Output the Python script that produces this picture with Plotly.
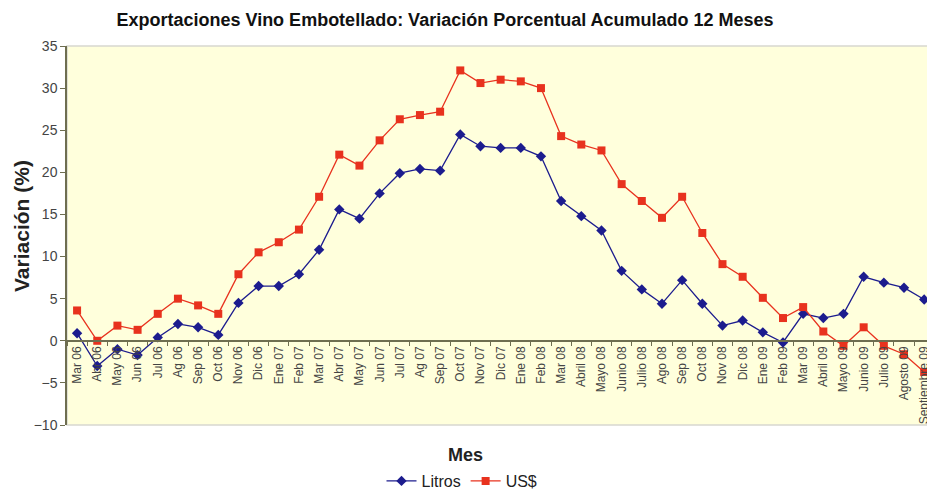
import plotly.graph_objects as go

meses = ["Mar 06", "Abr 06", "May 06", "Jun 06", "Jul 06", "Ag 06", "Sep 06", "Oct 06", "Nov 06", "Dic 06",
         "Ene 07", "Feb 07", "Mar 07", "Abr 07", "May 07", "Jun 07", "Jul 07", "Ag 07", "Sep 07", "Oct 07",
         "Nov 07", "Dic 07", "Ene 08", "Feb 08", "Mar 08", "Abril 08", "Mayo 08", "Junio 08", "Julio 08",
         "Ago 08", "Sep 08", "Oct 08", "Nov 08", "Dic 08", "Ene 09", "Feb 09", "Mar 09", "Abril 09",
         "Mayo 09", "Junio 09", "Julio 09", "Agosto 09", "Septiembre 09"]

litros = [0.9, -3.0, -1.0, -1.7, 0.4, 2.0, 1.6, 0.7, 4.5, 6.5,
          6.5, 7.9, 10.8, 15.6, 14.5, 17.5, 19.9, 20.4, 20.2, 24.5,
          23.1, 22.9, 22.9, 21.9, 16.6, 14.8, 13.1, 8.3, 6.1,
          4.4, 7.2, 4.4, 1.8, 2.4, 1.0, -0.2, 3.2, 2.7,
          3.2, 7.6, 6.9, 6.3, 4.9]

usd = [3.6, 0.0, 1.8, 1.3, 3.2, 5.0, 4.2, 3.2, 7.9, 10.5,
       11.7, 13.2, 17.1, 22.1, 20.8, 23.8, 26.3, 26.8, 27.2, 32.1,
       30.6, 31.0, 30.8, 30.0, 24.3, 23.3, 22.6, 18.6, 16.6,
       14.6, 17.1, 12.8, 9.1, 7.6, 5.1, 2.7, 4.0, 1.1,
       -0.6, 1.6, -0.6, -1.6, -3.7]

y_ticks = [-10, -5, 0, 5, 10, 15, 20, 25, 30, 35]

W, H = 927, 493
PLOT_H = 379

fig = go.Figure()
fig.add_trace(go.Scatter(
    x=meses, y=litros, name="Litros", mode="lines+markers",
    line=dict(color="#1c1c8e", width=1.3),
    marker=dict(symbol="diamond", size=8, color="#1c1c8e"),
))
fig.add_trace(go.Scatter(
    x=meses, y=usd, name="US$", mode="lines+markers",
    line=dict(color="#e8321e", width=1.3),
    marker=dict(symbol="square", size=8, color="#e8321e"),
))

fig.update_layout(
    width=W, height=H,
    margin=dict(l=67, r=0, t=46, b=H - 46 - PLOT_H, autoexpand=False),
    paper_bgcolor="white",
    plot_bgcolor="#ffffdc",
    font=dict(family="Arial, Liberation Sans, sans-serif", color="#333333"),
    title=dict(
        text="<b>Exportaciones Vino Embotellado: Variación Porcentual Acumulado 12 Meses</b>",
        x=445 / W, xanchor="center", y=1 - 20 / H, yanchor="middle",
        font=dict(size=18, color="#111111"),
    ),
    showlegend=True,
    legend=dict(
        orientation="h", x=(462 - 67) / 860, xanchor="center",
        y=(425 - 481) / PLOT_H, yanchor="middle",
        font=dict(size=16, color="#222222"), bgcolor="rgba(0,0,0,0)",
        itemwidth=30,
    ),
    xaxis=dict(
        type="category", range=[-0.5, 42.14],
        anchor="free", position=10 / 45, automargin=False,
        showline=True, linecolor="#6e6e50", linewidth=1.5,
        ticks="outside", ticklen=4, tickcolor="#6e6e50", tickson="boundaries",
        tickangle=-90, tickfont=dict(size=12, color="#444444"),
        showgrid=False, zeroline=False,
    ),
    yaxis=dict(
        range=[-10, 35], tickvals=y_ticks, automargin=False,
        showline=True, linecolor="#6e6e50", linewidth=1.5,
        ticks="outside", ticklen=5, tickcolor="#6e6e50",
        tickfont=dict(size=14, color="#444444"),
        showgrid=False, zeroline=False,
    ),
    annotations=[
        dict(text="<b>Variación (%)</b>", xref="paper", yref="paper",
             x=-46 / 860, y=(425 - 226) / PLOT_H, textangle=-90, showarrow=False,
             xanchor="center", yanchor="middle", font=dict(size=21, color="#222222")),
        dict(text="<b>Mes</b>", xref="paper", yref="paper",
             x=(465 - 67) / 860, y=(425 - 455) / PLOT_H, showarrow=False,
             xanchor="center", yanchor="middle", font=dict(size=18, color="#222222")),
    ],
    shapes=[
        dict(type="rect", xref="paper", yref="paper", x0=0, x1=1.02, y0=0, y1=1,
             line=dict(color="#d8d8d0", width=1.5), layer="below"),
    ],
)

fig.write_html(
    "out.html",
    config={"displayModeBar": False},
    post_script="document.body.style.margin='0';document.body.style.overflow='hidden';",
)
